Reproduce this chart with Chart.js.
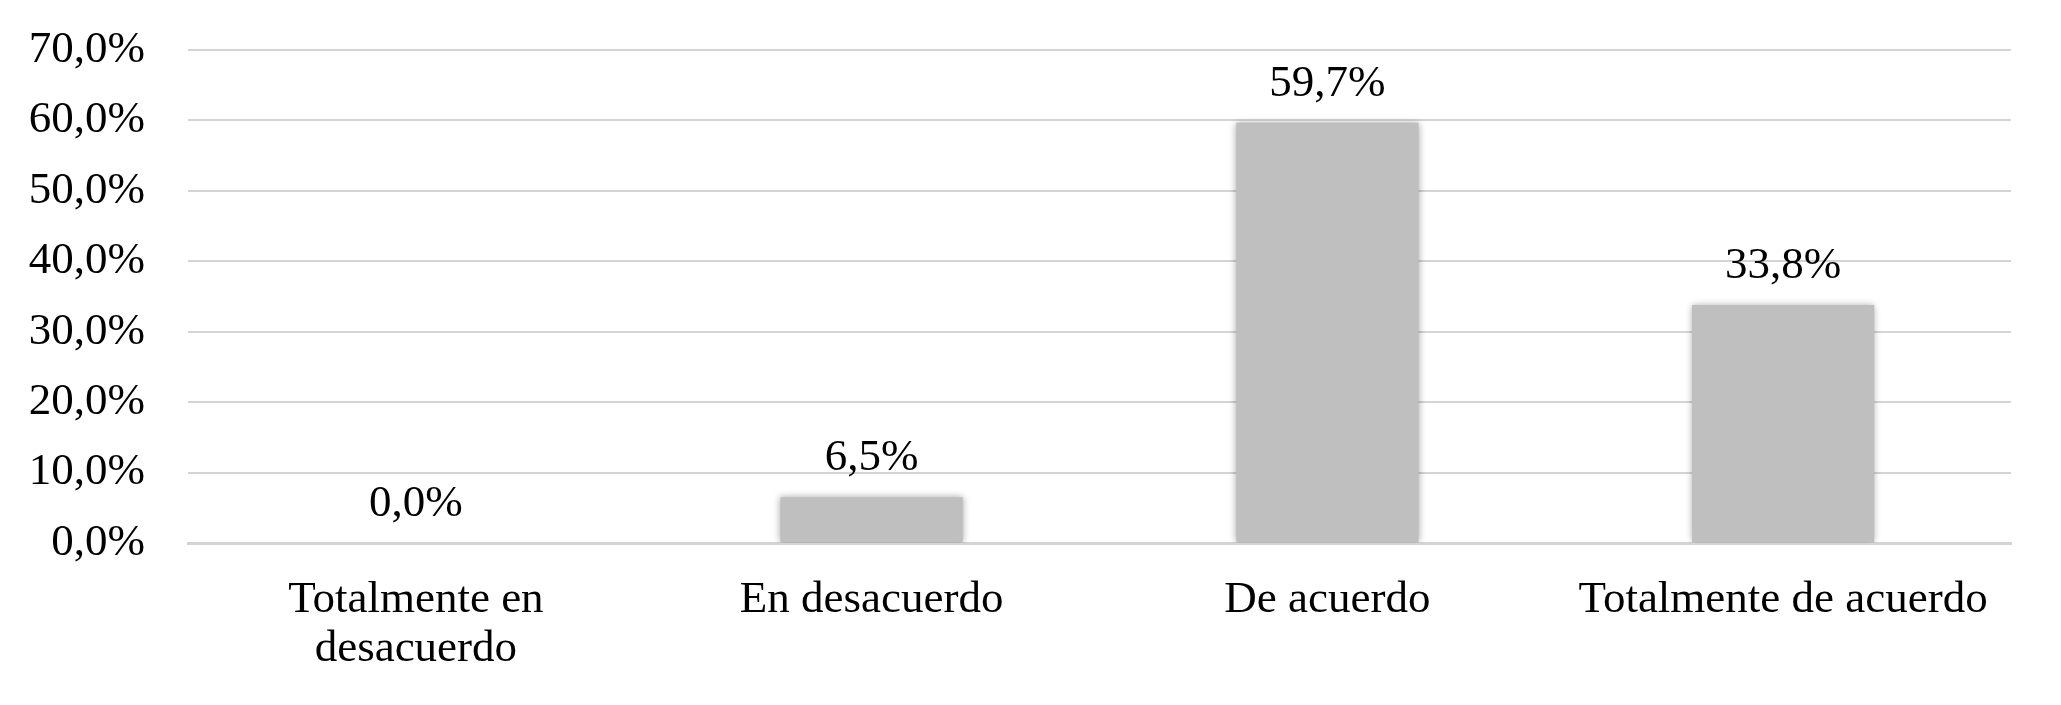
<!DOCTYPE html>
<html>
<head>
<meta charset="utf-8">
<script src="https://cdn.jsdelivr.net/npm/chart.js@4/dist/chart.umd.min.js"></script>
<style>
  html, body { margin: 0; padding: 0; background: #fff; overflow: hidden; }
  canvas { display: block; }
</style>
</head>
<body>
<canvas id="chart" width="2061" height="705"></canvas>
<script>
"use strict";

const categories = [
  ['Totalmente en', 'desacuerdo'],
  'En desacuerdo',
  'De acuerdo',
  'Totalmente de acuerdo',
];
const percentages = [0.0, 6.5, 59.7, 33.8];
const yTicks = [0, 10, 20, 30, 40, 50, 60, 70];

const FONT = 'Liberation Serif, Times New Roman, serif';

const fmt = v => v.toFixed(1).replace('.', ',') + '%';

// soft shadow behind the bars
const barShadow = {
  id: 'barShadow',
  beforeDatasetsDraw(chart) {
    const ctx = chart.ctx;
    ctx.save();
    ctx.shadowColor = 'rgba(0,0,0,0.35)';
    ctx.shadowBlur = 7;
  },
  afterDatasetsDraw(chart) {
    chart.ctx.restore();
  },
};

// value labels above each bar
const valueLabels = {
  id: 'valueLabels',
  afterDatasetsDraw(chart) {
    const ctx = chart.ctx;
    const meta = chart.getDatasetMeta(0);
    ctx.save();
    ctx.font = '45px ' + FONT;
    ctx.fillStyle = '#000';
    ctx.textAlign = 'center';
    ctx.textBaseline = 'alphabetic';
    meta.data.forEach((bar, i) => {
      ctx.fillText(fmt(percentages[i]), bar.x, bar.y - 27);
    });
    ctx.restore();
  },
};

new Chart(document.getElementById('chart'), {
  type: 'bar',
  data: {
    labels: categories,
    datasets: [{
      data: percentages,
      backgroundColor: '#bfbfbf',
      borderWidth: 0,
      categoryPercentage: 1,
      barPercentage: 0.4,
    }],
  },
  options: {
    responsive: false,
    animation: false,
    layout: { padding: { top: 50, right: 50, left: 0, bottom: 0 } },
    plugins: {
      legend: { display: false },
      tooltip: { enabled: false },
    },
    scales: {
      x: {
        grid: { display: false, drawTicks: false },
        border: { display: true, color: '#d4d4d4', width: 3 },
        ticks: {
          color: '#000',
          font: { family: FONT, size: 45, lineHeight: 1.1 },
          padding: 32,
          maxRotation: 0,
          autoSkip: false,
        },
        afterFit(scale) { scale.height = 162; },
      },
      y: {
        min: 0,
        max: 70,
        afterBuildTicks(scale) {
          scale.ticks = yTicks.map(v => ({ value: v }));
        },
        grid: { color: '#d4d4d4', lineWidth: 2, drawTicks: false },
        border: { display: false },
        ticks: {
          color: '#000',
          font: { family: FONT, size: 45 },
          padding: 43,
          callback: v => fmt(v),
        },
        afterFit(scale) {
          scale.width = 188;
          // tick padding would otherwise push the plot area down
          scale.paddingTop = 0;
          scale.paddingBottom = 0;
        },
      },
    },
  },
  plugins: [barShadow, valueLabels],
});
</script>
</body>
</html>
